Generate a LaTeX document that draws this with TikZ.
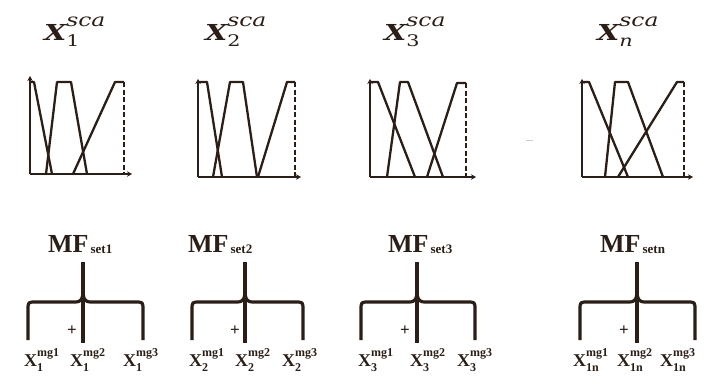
\documentclass[tikz,border=0pt]{standalone}
\usepackage{fontspec}
\setmainfont{Liberation Serif}
\newfontfamily\ttlfont{DejaVu Serif}
\usetikzlibrary{arrows.meta}
\definecolor{ink}{HTML}{2A1E16}
\tikzset{
  axisln/.style={ink, line width=2.5pt, -{Stealth[length=5pt,width=5.5pt]}},
  mfln/.style={ink, line width=2.3pt, line join=round},
  dashln/.style={ink, line width=2.3pt, dash pattern=on 5pt off 2.5pt},
  bracel/.style={ink, line width=3.2pt, line join=round},
  txt/.style={ink, anchor=base west, inner sep=0pt},
  plus/.style={ink, inner sep=0pt, font=\fontsize{17}{17}\selectfont\bfseries},
}
\newcommand\ttltext[1]{\scalebox{1.3}[1]{\ttlfont\fontsize{22}{22}\selectfont\bfseries\itshape X\rlap{\raisebox{14pt}{\fontsize{18}{18}\selectfont\mdseries\itshape sca}}\raisebox{-6pt}{\fontsize{16}{16}\selectfont\mdseries #1}}}
\newcommand\mglbl[2]{\fontsize{18}{18}\selectfont\bfseries X\rlap{\raisebox{10pt}{\fontsize{12}{12}\selectfont mg#1}}\raisebox{-5pt}{\fontsize{12}{12}\selectfont #2}}
\newcommand\mftext[1]{\fontsize{26}{26}\selectfont\bfseries MF\hspace{2pt}\raisebox{-1pt}{\fontsize{13}{13}\selectfont set#1}}
\newcommand\bracepath[3]{% left, stem, right
  \draw[bracel] (#1,340) -- (#1,310) .. controls (#1,302) .. (#1+8,302) -- (#2-8,302) .. controls (#2-1,302) and (#2,298) .. (#2,290);
  \draw[bracel] (#3,340) -- (#3,310) .. controls (#3,302) .. (#3-8,302) -- (#2+8,302) .. controls (#2+1,302) and (#2,298) .. (#2,290);
  \draw[bracel] (#2,262) -- (#2,343);
}
\begin{document}
\begin{tikzpicture}[x=1pt,y=-1pt]
\useasboundingbox (0,0) rectangle (716,389);

% titles
\node[txt] (t1) at (44,40) {\ttltext{\upshape 1}};
\node[txt] (t2) at (205,40) {\ttltext{\upshape 2}};
\node[txt] (t3) at (384,40) {\ttltext{\upshape 3}};
\node[txt] (tn) at (597,40) {\ttltext{\itshape n}};

% chart 1
\draw[axisln] (30,174) -- (30,76);
\draw[axisln] (30,174) -- (132,174);
\draw[mfln] (30,82) -- (34,82) -- (52,174);
\draw[mfln] (46,174) -- (57,82) -- (71,82) -- (87,174);
\draw[mfln] (73,174) -- (115,82) -- (124,82);
\draw[dashln] (124,82) -- (124,174);

% chart 2
\draw[axisln] (198,177) -- (198,79);
\draw[axisln] (198,177) -- (301,177);
\draw[mfln] (198,82) -- (207,82) -- (222,177);
\draw[mfln] (213,177) -- (230,82) -- (243,82) -- (257,177);
\draw[mfln] (258,177) -- (287,82) -- (295,82);
\draw[dashln] (295,82) -- (295,177);

% chart 3
\draw[axisln] (370,177) -- (370,79);
\draw[axisln] (370,177) -- (476,177);
\draw[mfln] (370,82) -- (378,82) -- (415,177);
\draw[mfln] (387,177) -- (400,82) -- (408,82) -- (443,177);
\draw[mfln] (427,177) -- (457,83) -- (466,83);
\draw[dashln] (466,83) -- (466,177);

% faint mark
\draw[gray!40, line width=1pt] (526,140) -- (533,140);

% chart n
\draw[axisln] (582,177) -- (582,79);
\draw[axisln] (582,177) -- (693,177);
\draw[mfln] (582,82) -- (589,82) -- (628,177);
\draw[mfln] (605,177) -- (615,82) -- (628,82) -- (663,177);
\draw[mfln] (618,177) -- (677,82) -- (684,82);
\draw[dashln] (684,82) -- (684,177);

% MF labels
\node[txt] (m1) at (48,252) {\mftext{1}};
\node[txt] (m2) at (188,252) {\mftext{2}};
\node[txt] (m3) at (388,252) {\mftext{3}};
\node[txt] (mn) at (600,252) {\mftext{n}};

% braces
\bracepath{28}{83}{143}
\bracepath{192}{245}{303}
\bracepath{361}{417}{475}
\bracepath{580}{637}{695}

% plus signs
\node[plus] (p1) at (72,331) {+};
\node[plus] (p2) at (235,331) {+};
\node[plus] (p3) at (405,331) {+};
\node[plus] (pn) at (624,331) {+};

% bottom labels
\node[txt] (a1) at (24,366) {\mglbl{1}{1}};
\node[txt] (a2) at (70,366) {\mglbl{2}{1}};
\node[txt] (a3) at (123,366) {\mglbl{3}{1}};
\node[txt] (b1) at (189,366) {\mglbl{1}{2}};
\node[txt] (b2) at (235,366) {\mglbl{2}{2}};
\node[txt] (b3) at (282,366) {\mglbl{3}{2}};
\node[txt] (c1) at (358,366) {\mglbl{1}{3}};
\node[txt] (c2) at (410,366) {\mglbl{2}{3}};
\node[txt] (c3) at (457,366) {\mglbl{3}{3}};
\node[txt] (d1) at (573,366) {\mglbl{1}{1n}};
\node[txt] (d2) at (617,366) {\mglbl{2}{1n}};
\node[txt] (d3) at (660,366) {\mglbl{3}{1n}};
\end{tikzpicture}
\end{document}
